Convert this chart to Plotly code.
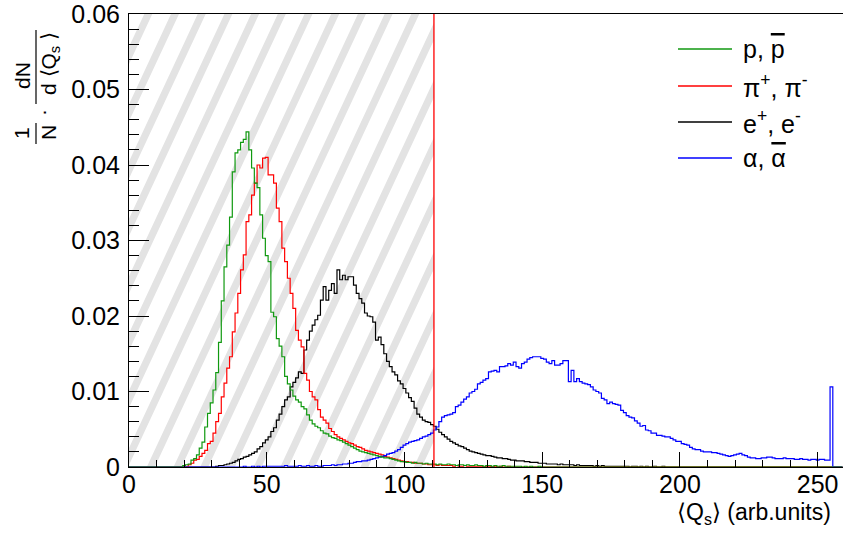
import plotly.graph_objects as go

# ---------------- data ----------------
n_bins = 260                      # bin centres 0 .. 259 (1 unit wide)
x_range = [0, 259.2]
y_range = [0, 0.06]
cut_value = 110.7                 # red vertical cut line / end of hatched region

x_ticks = [0, 50, 100, 150, 200, 250]
y_ticks = [0, 0.01, 0.02, 0.03, 0.04, 0.05, 0.06]

labels = ["p, <span style='text-decoration:overline'>p</span>",
          "π<sup>+</sup>, π<sup>-</sup>",
          "e<sup>+</sup>, e<sup>-</sup>",
          "α, <span style='text-decoration:overline'>α</span>"]
colors = ["#109910", "#ff0000", "#000000", "#0000ff"]

# protons, first bin = 20
p_start = 20
p_vals = [0.0002, 0.0003, 0.0004, 0.0009, 0.0011, 0.0016, 0.0025, 0.0033, 0.0053, 0.0071,
          0.0085, 0.0102, 0.0125, 0.0165, 0.0220, 0.0265, 0.0294, 0.0331, 0.0391, 0.0416,
          0.0420, 0.0430, 0.0434, 0.0444, 0.0420, 0.0396, 0.0376, 0.0370, 0.0334, 0.0303,
          0.0280, 0.0272, 0.0205, 0.0199, 0.0170, 0.0160, 0.0146, 0.0120, 0.0110, 0.0102,
          0.0094, 0.0089, 0.0086, 0.0080, 0.0077, 0.0069, 0.0062, 0.0057, 0.0054, 0.0052,
          0.0048, 0.0045, 0.0044, 0.0041, 0.0039, 0.0038, 0.0036, 0.0035, 0.0033, 0.0031,
          0.0029, 0.0027, 0.0025, 0.0023, 0.0021, 0.0020, 0.0019, 0.0018, 0.0017, 0.0016,
          0.0015, 0.0014, 0.0013, 0.0012, 0.0012, 0.0011, 0.0010, 0.0009, 0.0008, 0.0007,
          0.0007, 0.0006, 0.0006, 0.0005, 0.0006, 0.0005, 0.0005, 0.0004, 0.0005, 0.0004,
          0.0004, 0.0004, 0.0003, 0.0004, 0.0003, 0.0003, 0.0004, 0.0003, 0.0003, 0.0002,
          0.0003, 0.0003, 0.0002, 0.0003, 0.0002, 0.0002, 0.0003, 0.0002, 0.0002, 0.0001,
          0.0002, 0.0002, 0.0001, 0.0002, 0.0001, 0.0001, 0.0002, 0.0001, 0.0001, 0.0001,
          0.0001, 0.0001, 0.0001, 0.0000, 0.0001, 0.0000, 0.0001, 0.0000, 0.0000, 0.0001]

# pions, first bin = 22
pi_start = 22
pi_vals = [0.0003, 0.0005, 0.0009, 0.0010, 0.0014, 0.0018, 0.0022, 0.0031,
           0.0034, 0.0045, 0.0060, 0.0071, 0.0093, 0.0111, 0.0131, 0.0146, 0.0179, 0.0204,
           0.0230, 0.0261, 0.0281, 0.0325, 0.0334, 0.0360, 0.0376, 0.0400, 0.0396, 0.0409,
           0.0410, 0.0387, 0.0387, 0.0376, 0.0343, 0.0325, 0.0290, 0.0272, 0.0250, 0.0230,
           0.0210, 0.0181, 0.0168, 0.0159, 0.0124, 0.0115, 0.0100, 0.0093, 0.0089, 0.0076,
           0.0066, 0.0062, 0.0058, 0.0051, 0.0047, 0.0043, 0.0040, 0.0038, 0.0036, 0.0034,
           0.0032, 0.0031, 0.0029, 0.0027, 0.0026, 0.0024, 0.0022, 0.0021, 0.0020, 0.0019,
           0.0018, 0.0017, 0.0016, 0.0014, 0.0013, 0.0012, 0.0011, 0.0010, 0.0009, 0.0008,
           0.0007, 0.0007, 0.0006, 0.0006, 0.0005, 0.0005, 0.0005, 0.0004, 0.0004, 0.0003,
           0.0003, 0.0003, 0.0002, 0.0003, 0.0002, 0.0002, 0.0002, 0.0002, 0.0001, 0.0002,
           0.0001, 0.0001, 0.0002, 0.0001, 0.0001, 0.0001, 0.0001, 0.0001, 0.0001, 0.0000,
           0.0001, 0.0001, 0.0000, 0.0001, 0.0000, 0.0001, 0.0000, 0.0000, 0.0001, 0.0000]

# electrons, first bin = 32
e_start = 32
e_vals = [0.0001, 0.0002, 0.0002, 0.0003, 0.0004, 0.0005, 0.0006, 0.0008,
          0.0010, 0.0011, 0.0013, 0.0014, 0.0016, 0.0018, 0.0020, 0.0024, 0.0027, 0.0032,
          0.0036, 0.0040, 0.0047, 0.0052, 0.0062, 0.0070, 0.0080, 0.0089, 0.0093, 0.0106,
          0.0112, 0.0118, 0.0126, 0.0124, 0.0155, 0.0168, 0.0180, 0.0188, 0.0195, 0.0201,
          0.0221, 0.0239, 0.0221, 0.0234, 0.0243, 0.0230, 0.0261, 0.0248, 0.0254, 0.0248,
          0.0252, 0.0252, 0.0241, 0.0230, 0.0223, 0.0217, 0.0204, 0.0200, 0.0199, 0.0192,
          0.0168, 0.0172, 0.0162, 0.0150, 0.0140, 0.0133, 0.0126, 0.0122, 0.0114, 0.0110,
          0.0104, 0.0098, 0.0092, 0.0087, 0.0078, 0.0070, 0.0066, 0.0062, 0.0060, 0.0059,
          0.0056, 0.0054, 0.0050, 0.0046, 0.0043, 0.0040, 0.0037, 0.0034, 0.0032, 0.0030,
          0.0028, 0.0027, 0.0025, 0.0023, 0.0021, 0.0020, 0.0019, 0.0018, 0.0017, 0.0016,
          0.0015, 0.0015, 0.0014, 0.0013, 0.0012, 0.0012, 0.0011, 0.0011, 0.0010, 0.0009,
          0.0009, 0.0008, 0.0008, 0.0008, 0.0007, 0.0007, 0.0006, 0.0006, 0.0006, 0.0005,
          0.0005, 0.0005, 0.0004, 0.0004, 0.0004, 0.0004, 0.0003, 0.0004, 0.0003, 0.0003,
          0.0003, 0.0003, 0.0002, 0.0003, 0.0002, 0.0002, 0.0002, 0.0002, 0.0002, 0.0001,
          0.0002, 0.0001, 0.0002, 0.0001, 0.0001, 0.0001, 0.0001, 0.0001, 0.0001, 0.0001,
          0.0001, 0.0001, 0.0000, 0.0001, 0.0001, 0.0000, 0.0001, 0.0000, 0.0001, 0.0000,
          0.0000, 0.0001, 0.0000, 0.0000, 0.0001, 0.0000, 0.0000, 0.0000, 0.0000]

# alphas, first bin = 40
a_start = 40
a_vals = [0.0000, 0.0000, 0.0001, 0.0000, 0.0000, 0.0001, 0.0000, 0.0001, 0.0000, 0.0001,
          0.0001, 0.0001, 0.0001, 0.0001, 0.0001, 0.0001, 0.0001, 0.0002, 0.0001, 0.0001,
          0.0001, 0.0001, 0.0002, 0.0001, 0.0001, 0.0002, 0.0001, 0.0001, 0.0002, 0.0001,
          0.0001, 0.0002, 0.0002, 0.0002, 0.0003, 0.0002, 0.0003, 0.0003, 0.0004, 0.0004,
          0.0005, 0.0005, 0.0006, 0.0007, 0.0007, 0.0008, 0.0008, 0.0009, 0.0010, 0.0011,
          0.0012, 0.0013, 0.0014, 0.0015, 0.0017, 0.0018, 0.0019, 0.0021, 0.0023, 0.0026,
          0.0029, 0.0031, 0.0033, 0.0034, 0.0035, 0.0036, 0.0038, 0.0040, 0.0041, 0.0043,
          0.0045, 0.0049, 0.0053, 0.0060, 0.0066, 0.0068, 0.0069, 0.0070, 0.0072, 0.0080,
          0.0082, 0.0086, 0.0090, 0.0093, 0.0098, 0.0100, 0.0103, 0.0110, 0.0112, 0.0115,
          0.0117, 0.0126, 0.0127, 0.0128, 0.0126, 0.0133, 0.0133, 0.0134, 0.0137, 0.0135,
          0.0139, 0.0133, 0.0131, 0.0137, 0.0139, 0.0143, 0.0145, 0.0146, 0.0146, 0.0146,
          0.0144, 0.0143, 0.0139, 0.0137, 0.0141, 0.0135, 0.0135, 0.0137, 0.0141, 0.0141,
          0.0113, 0.0128, 0.0113, 0.0117, 0.0113, 0.0111, 0.0110, 0.0109, 0.0106, 0.0102,
          0.0100, 0.0098, 0.0091, 0.0089, 0.0084, 0.0086, 0.0084, 0.0083, 0.0082, 0.0075,
          0.0072, 0.0068, 0.0066, 0.0065, 0.0061, 0.0058, 0.0054, 0.0055, 0.0049, 0.0048,
          0.0045, 0.0045, 0.0042, 0.0042, 0.0041, 0.0040, 0.0040, 0.0038, 0.0036, 0.0034,
          0.0034, 0.0031, 0.0030, 0.0029, 0.0026, 0.0024, 0.0023, 0.0023, 0.0021, 0.0020,
          0.0020, 0.0020, 0.0019, 0.0019, 0.0018, 0.0017, 0.0016, 0.0015, 0.0014, 0.0015,
          0.0016, 0.0017, 0.0018, 0.0016, 0.0015, 0.0013, 0.0012, 0.0012, 0.0011, 0.0011,
          0.0012, 0.0012, 0.0013, 0.0013, 0.0012, 0.0011, 0.0011, 0.0011, 0.0012, 0.0011,
          0.0011, 0.0011, 0.0010, 0.0010, 0.0011, 0.0010, 0.0010, 0.0009, 0.0010, 0.0010,
          0.0009, 0.0010, 0.0010, 0.0009, 0.0009, 0.0106]

# ---------------- helpers ----------------
def full_hist(start, vals):
    y = [0.0] * n_bins
    for i, v in enumerate(vals):
        y[start + i] = v
    return y

bin_centres = list(range(n_bins))
series = {
    "p": full_hist(p_start, p_vals),
    "pi": full_hist(pi_start, pi_vals),
    "e": full_hist(e_start, e_vals),
    "alpha": full_hist(a_start, a_vals),
}
series_colour = {"p": colors[0], "pi": colors[1], "e": colors[2], "alpha": colors[3]}
draw_order = ["e", "pi", "alpha", "p"]   # p drawn last (on top)

W_FIG, H_FIG = 843, 538
L, R, T, B = 129, 843, 14, 467
PW, PH = R - L, B - T

def fx(px):
    return (px - L) / PW

def fy(py):
    return (B - py) / PH

def px_to_data(px, py):
    return (x_range[0] + (px - L) / PW * (x_range[1] - x_range[0]),
            y_range[0] + (B - py) / PH * (y_range[1] - y_range[0]))

# ---------------- hatch of the excluded region (styling) ----------------
def clip_poly(poly, xmin, xmax, ymin, ymax):
    def clip(pts, inside, inter):
        out = []
        n = len(pts)
        for i in range(n):
            cur, prev = pts[i], pts[i - 1]
            if inside(cur):
                if not inside(prev):
                    out.append(inter(prev, cur))
                out.append(cur)
            elif inside(prev):
                out.append(inter(prev, cur))
        return out

    def ix(xc):
        return lambda a, b: (xc, a[1] + (b[1] - a[1]) * (xc - a[0]) / (b[0] - a[0]))

    def iy(yc):
        return lambda a, b: (a[0] + (b[0] - a[0]) * (yc - a[1]) / (b[1] - a[1]), yc)

    pts = poly
    for inside, inter in [(lambda p: p[0] >= xmin, ix(xmin)),
                          (lambda p: p[0] <= xmax, ix(xmax)),
                          (lambda p: p[1] >= ymin, iy(ymin)),
                          (lambda p: p[1] <= ymax, iy(ymax))]:
        if not pts:
            break
        pts = clip(pts, inside, inter)
    return pts

cut_px = L + (cut_value - x_range[0]) / (x_range[1] - x_range[0]) * PW
hatch_spacing = 26.7
hatch_width = 8.0
hatch_cot = 0.466       # horizontal shift per vertical pixel (about 65 deg lines)
hatch_phase = 148.3
hx, hy = [], []
for k in range(-30, 30):
    xt = hatch_phase + k * hatch_spacing
    xb = xt - PH * hatch_cot
    poly = [(xt - hatch_width / 2, T), (xt + hatch_width / 2, T),
            (xb + hatch_width / 2, B), (xb - hatch_width / 2, B)]
    cp = clip_poly(poly, L, cut_px, T, B)
    if len(cp) >= 3:
        for (a, b) in cp + [cp[0]]:
            dx, dy = px_to_data(a, b)
            hx.append(dx)
            hy.append(dy)
        hx.append(None)
        hy.append(None)

fig = go.Figure()
fig.add_trace(go.Scatter(x=hx, y=hy, mode="lines", fill="toself",
                         fillcolor="#e3e3e3", line=dict(width=0, color="#e3e3e3"),
                         hoverinfo="skip", showlegend=False))

for name in draw_order:
    fig.add_trace(go.Scatter(x=bin_centres, y=series[name], mode="lines", line_shape="hvh",
                             line=dict(color=series_colour[name], width=1.2),
                             name=name, showlegend=False, hoverinfo="x+y"))

fig.add_trace(go.Scatter(x=[cut_value, cut_value], y=y_range, mode="lines",
                         line=dict(color="#ff0000", width=1.3),
                         hoverinfo="skip", showlegend=False))

FONT = "Liberation Sans, Arial, Helvetica, sans-serif"

fig.update_layout(
    width=W_FIG, height=H_FIG,
    margin=dict(l=L, r=W_FIG - R, t=T, b=H_FIG - B, pad=0, autoexpand=False),
    plot_bgcolor="white", paper_bgcolor="white",
    showlegend=False,
    font=dict(family=FONT, size=25, color="black"),
)
fig.update_xaxes(range=x_range, showline=True, linecolor="black", linewidth=1, mirror=True,
                 ticks="inside", ticklen=15, tickwidth=1, tickcolor="black",
                 tickvals=x_ticks, ticktext=[str(v) for v in x_ticks],
                 minor=dict(ticks="inside", ticklen=7, dtick=10, tick0=0, tickcolor="black"),
                 showgrid=False, zeroline=False, tickfont=dict(size=25),
                 ticklabelstandoff=-5, automargin=False, ticklabeloverflow="allow")
fig.update_yaxes(range=y_range, showline=True, linecolor="black", linewidth=1, mirror=False,
                 ticks="inside", ticklen=20, tickwidth=1, tickcolor="black",
                 tickvals=y_ticks, ticktext=["0"] + ["%.2f" % v for v in y_ticks[1:]],
                 minor=dict(ticks="inside", ticklen=10, dtick=0.002, tick0=0, tickcolor="black"),
                 showgrid=False, zeroline=False, tickfont=dict(size=25),
                 ticklabelstandoff=3, automargin=False, ticklabeloverflow="allow")

ann = []
shapes = []
# x title
ann.append(dict(text="⟨Q<sub>s</sub>⟩ (arb.units)", xref="paper", yref="paper",
                x=fx(833), y=fy(513), xanchor="right", yanchor="middle",
                showarrow=False, font=dict(size=23)))
# y title built as two stacked fractions, rotated
yt = 21
ann += [
    dict(text="1", x=fx(21), y=fy(133), textangle=-90, font=dict(size=yt)),
    dict(text="N", x=fx(48), y=fy(133), textangle=-90, font=dict(size=yt)),
    dict(text="·", x=fx(42), y=fy(113), textangle=-90, font=dict(size=yt)),
    dict(text="dN", x=fx(22), y=fy(76), textangle=-90, font=dict(size=yt)),
    dict(text="d ⟨Q<sub>s</sub> ⟩", x=fx(50), y=fy(64), textangle=-90, font=dict(size=yt)),
]
for a in ann[1:]:
    a.update(xref="paper", yref="paper", showarrow=False, xanchor="center", yanchor="middle")
shapes.append(dict(type="line", xref="paper", yref="paper", x0=fx(36), x1=fx(36),
                   y0=fy(123), y1=fy(144), line=dict(color="black", width=1.2)))
shapes.append(dict(type="line", xref="paper", yref="paper", x0=fx(36), x1=fx(36),
                   y0=fy(30), y1=fy(104), line=dict(color="black", width=1.2)))

# legend (drawn manually to mimic ROOT's TLegend)
leg_rows = [49, 86, 122, 158]
for i, lab in enumerate(labels):
    shapes.append(dict(type="line", xref="paper", yref="paper",
                       x0=fx(678), x1=fx(732), y0=fy(leg_rows[i]), y1=fy(leg_rows[i]),
                       line=dict(color=colors[i], width=1.3)))
    ann.append(dict(text=lab, xref="paper", yref="paper", x=fx(741), y=fy(leg_rows[i]),
                    xanchor="left", yanchor="middle", showarrow=False,
                    font=dict(size=25)))

fig.update_layout(annotations=ann, shapes=shapes)
fig.write_html("out.html", config={"displayModeBar": False},
               post_script="document.body.style.margin='0';document.body.style.overflow='hidden';")
